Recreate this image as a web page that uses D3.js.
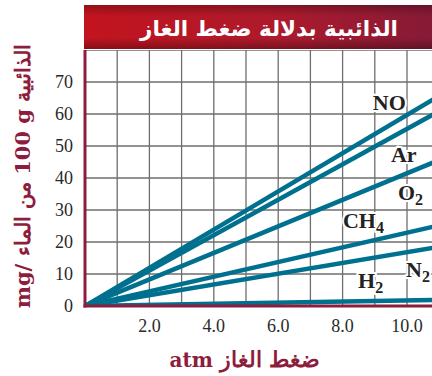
<!DOCTYPE html>
<html>
<head>
<meta charset="utf-8">
<script src="https://cdn.jsdelivr.net/npm/d3@7"></script>
<style>
  body { margin: 0; background: #fff; }
  svg { display: block; }
</style>
</head>
<body>
<div id="chart"></div>
<script>
// gases and solubility (mg / 100 g water)
const gases = ["NO", "Ar", "O2", "CH4", "N2", "H2"];
const pressures = [0, 11];
const solubility = {
  NO: [0, 65.7],
  Ar: [0, 60.9],
  O2: [0, 45.6],
  CH4: [0, 25.2],
  N2: [0, 18.5],
  H2: [0, 1.9],
};
const xTicks = [2, 4, 6, 8, 10];
const yTicks = [0, 10, 20, 30, 40, 50, 60, 70];
// label anchors in data units [pressure, solubility]
const labelAt = {
  NO: [8.94, 61.2],
  Ar: [9.5, 45.0],
  O2: [9.72, 33.1],
  CH4: [8.01, 24.4],
  N2: [9.97, 9.1],
  H2: [8.48, 5.6],
};

const W = 432, H = 376;
const red = "#8d1d3c", teal = "#00708f";

const svg = d3.select("#chart").append("svg")
  .attr("width", W).attr("height", H);

const x = d3.scaleLinear().domain([0, 10]).range([85, 407]);
const y = d3.scaleLinear().domain([0, 80]).range([306, 50]);

const defs = svg.append("defs");
const grad = defs.append("linearGradient").attr("id", "banner");
grad.append("stop").attr("offset", "0%").attr("stop-color", "#c2141e");
grad.append("stop").attr("offset", "55%").attr("stop-color", "#ad1a2c");
grad.append("stop").attr("offset", "100%").attr("stop-color", "#861a37");
const shade = defs.append("linearGradient").attr("id", "shade")
  .attr("x1", 0).attr("x2", 0).attr("y1", 0).attr("y2", 1);
shade.append("stop").attr("offset", "0%").attr("stop-color", "#000").attr("stop-opacity", 0.25);
shade.append("stop").attr("offset", "25%").attr("stop-color", "#000").attr("stop-opacity", 0);
shade.append("stop").attr("offset", "75%").attr("stop-color", "#000").attr("stop-opacity", 0);
shade.append("stop").attr("offset", "100%").attr("stop-color", "#000").attr("stop-opacity", 0.3);

defs.append("clipPath").attr("id", "plot")
  .append("rect")
  .attr("x", x(0)).attr("y", y(80))
  .attr("width", W - x(0)).attr("height", y(0) - y(80));

// grid
const grid = svg.append("g").attr("clip-path", "url(#plot)");
grid.selectAll(".v").data(d3.range(1, 12)).join("line")
  .attr("x1", (d) => x(d)).attr("x2", (d) => x(d))
  .attr("y1", y(80)).attr("y2", y(0))
  .attr("stroke", "#6e6e6e").attr("stroke-width", 1.3);
grid.selectAll(".h").data(d3.range(10, 81, 10)).join("line")
  .attr("x1", x(0)).attr("x2", W)
  .attr("y1", (d) => y(d)).attr("y2", (d) => y(d))
  .attr("stroke", "#6e6e6e").attr("stroke-width", 1.3);

// gas lines
const line = d3.line().x((d) => x(d[0])).y((d) => y(d[1]));
grid.selectAll(".gas").data(gases).join("path")
  .attr("d", (g) => line(pressures.map((p, i) => [p, solubility[g][i]])))
  .attr("fill", "none")
  .attr("stroke", teal)
  .attr("stroke-width", 4.5);

// axes
svg.append("line")
  .attr("x1", x(0)).attr("x2", x(0)).attr("y1", y(80)).attr("y2", y(0) + 1.5)
  .attr("stroke", red).attr("stroke-width", 3);
svg.append("line")
  .attr("x1", x(0) - 1.5).attr("x2", W).attr("y1", y(0)).attr("y2", y(0))
  .attr("stroke", red).attr("stroke-width", 3);

// tick labels
svg.selectAll(".yt").data(yTicks).join("text")
  .attr("x", 73).attr("y", (d) => y(d) + 6)
  .attr("text-anchor", "end")
  .attr("font-family", "Liberation Serif, serif")
  .attr("font-size", 18).attr("fill", "#2a2a2a")
  .text((d) => d);
svg.selectAll(".xt").data(xTicks).join("text")
  .attr("x", (d) => x(d)).attr("y", 332)
  .attr("text-anchor", "middle")
  .attr("font-family", "Liberation Serif, serif")
  .attr("font-size", 18).attr("fill", "#2a2a2a")
  .text((d) => d.toFixed(1));

// gas labels
const labels = svg.selectAll(".lab").data(gases).join("text")
  .attr("x", (g) => x(labelAt[g][0]))
  .attr("y", (g) => y(labelAt[g][1]))
  .attr("font-family", "Liberation Serif, serif")
  .attr("font-weight", "bold")
  .attr("font-size", 22)
  .attr("fill", "#222")
  .attr("stroke", "#fff").attr("stroke-width", 4)
  .attr("paint-order", "stroke");
labels.append("tspan").text((g) => g.replace(/\d+$/, ""));
labels.filter((g) => /\d$/.test(g)).append("tspan")
  .attr("font-size", 16).attr("dy", 5)
  .text((g) => g.match(/\d+$/)[0]);

// title banner
svg.append("rect").attr("x", 84).attr("y", 5).attr("width", W - 84).attr("height", 44)
  .attr("fill", "url(#banner)");
svg.append("rect").attr("x", 84).attr("y", 5).attr("width", W - 84).attr("height", 44)
  .attr("fill", "url(#shade)");
svg.append("text")
  .attr("x", 398).attr("y", 36)
  .attr("direction", "rtl")
  .attr("font-family", "DejaVu Sans, sans-serif")
  .attr("font-weight", "bold")
  .attr("font-size", 21.5).attr("fill", "#fff")
  .text("الذائبية بدلالة ضغط الغاز");

// axis titles
const xTitle = svg.append("text")
  .attr("x", 245).attr("y", 367)
  .attr("text-anchor", "middle")
  .attr("font-family", "DejaVu Serif, serif")
  .attr("font-weight", "bold")
  .attr("fill", red);
xTitle.append("tspan").attr("font-size", 20).text("atm    ");
xTitle.append("tspan").attr("font-size", 22).text("ضغط الغاز");

svg.append("text")
  .attr("transform", "translate(30,176) rotate(-90)")
  .attr("text-anchor", "middle")
  .attr("font-family", "DejaVu Serif, serif")
  .attr("font-weight", "bold")
  .attr("font-size", 21).attr("fill", red)
  .text("mg/ من الماء \u200E100 g الذائبية");
</script>
</body>
</html>
